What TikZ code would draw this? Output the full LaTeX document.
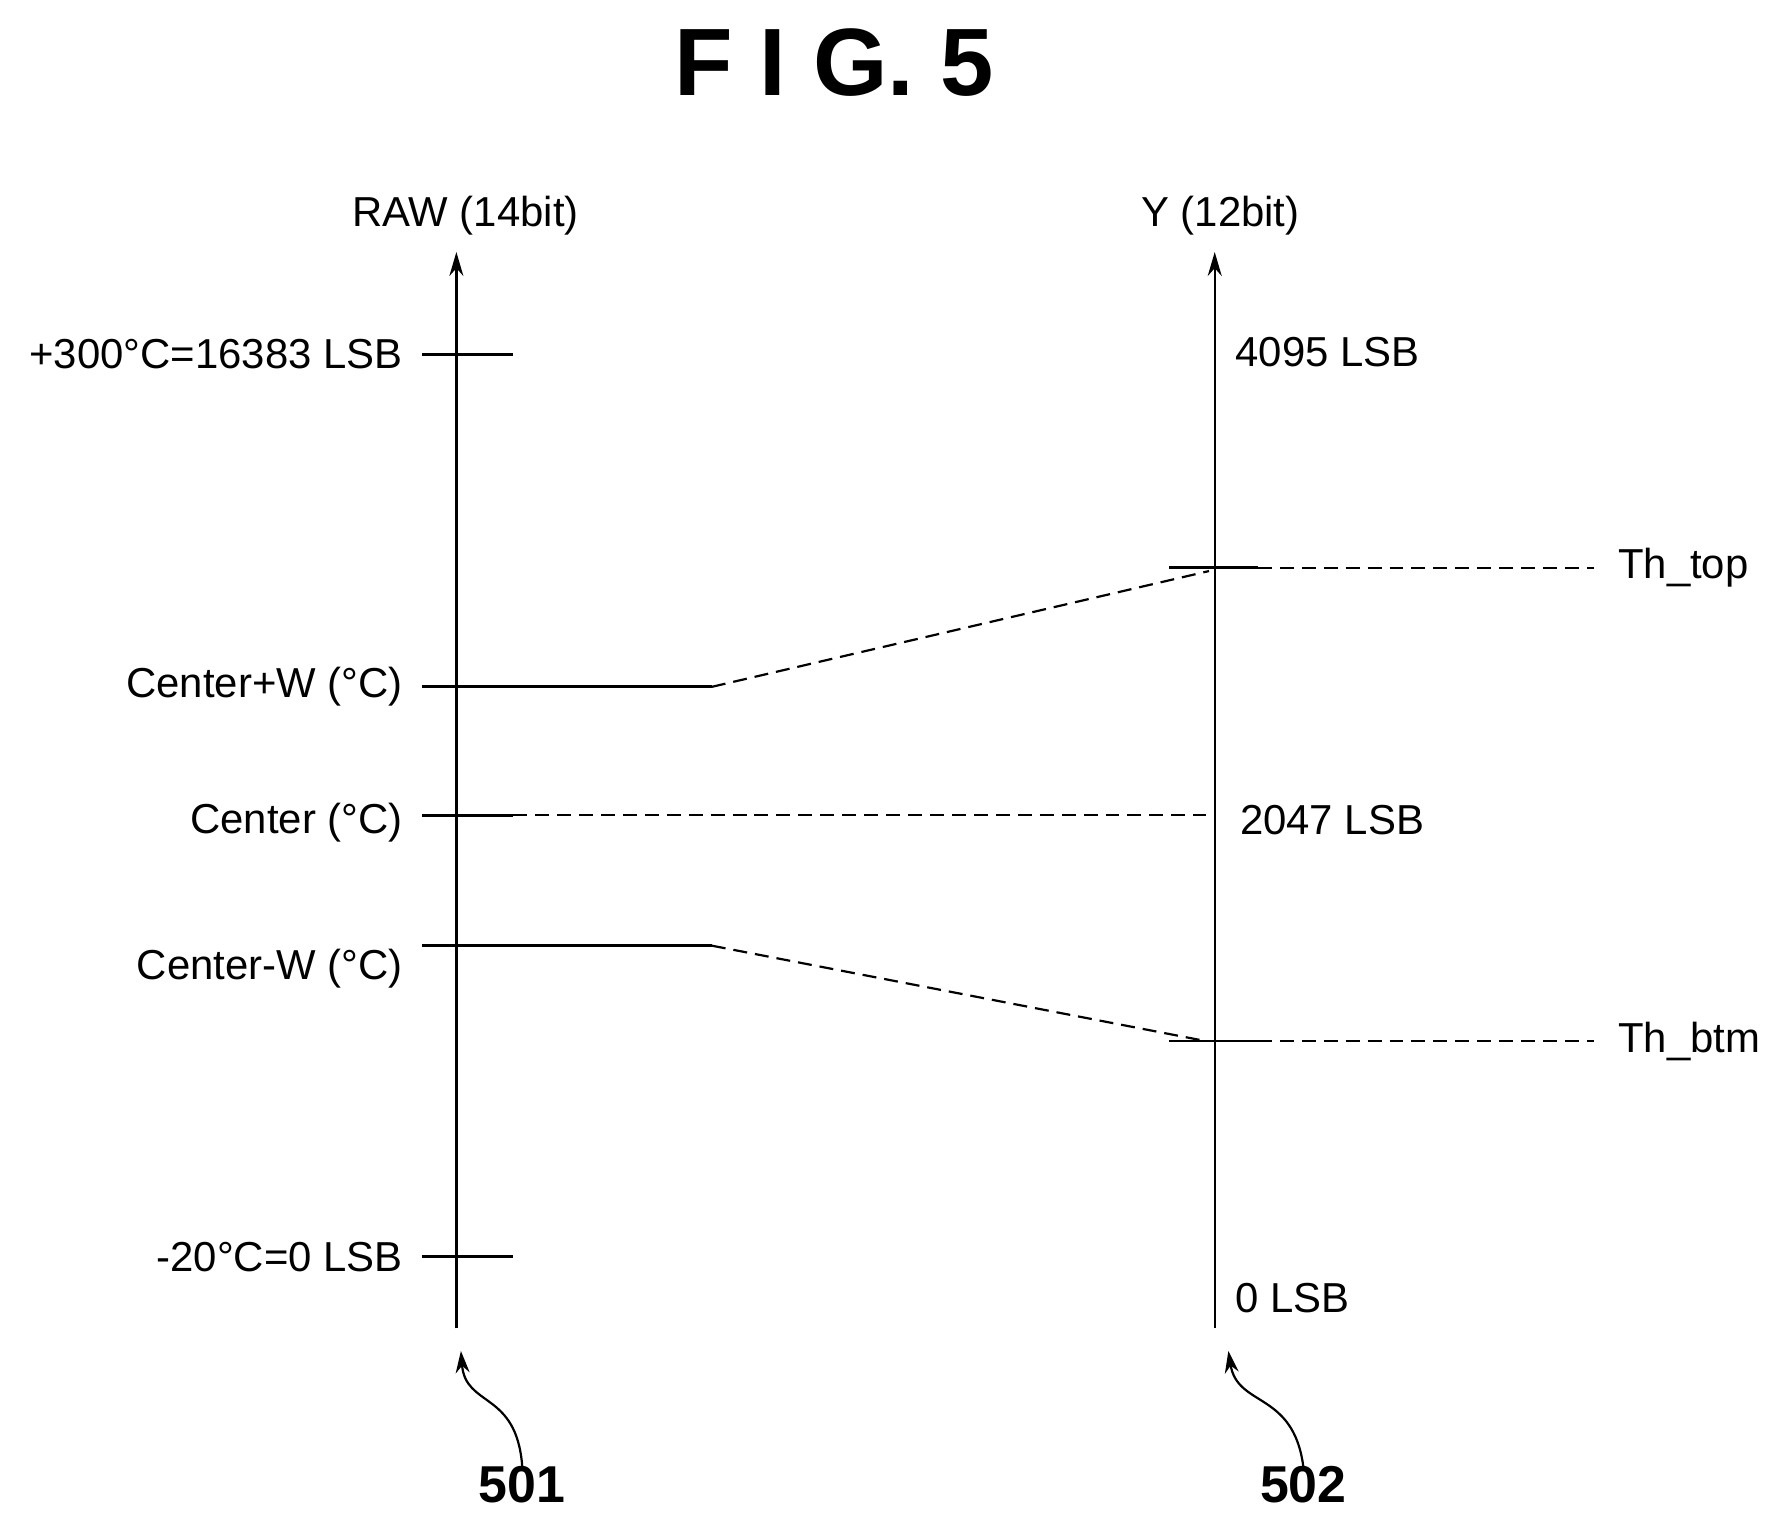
\documentclass[tikz,border=0pt]{standalone}
\usepackage{fontspec}
\setmainfont{Liberation Sans}
\usetikzlibrary{arrows.meta}
\tikzset{
  axis/.style={line width=1.2pt,-{Stealth[length=12pt,width=7pt]}},
  lvl/.style={line width=1.4pt},
  guide/.style={line width=1.1pt,dash pattern=on 7pt off 4pt},
  lbl/.style={font=\fontsize{21}{25}\selectfont,inner sep=0pt},
  refnum/.style={font=\bfseries\fontsize{26}{30}\selectfont,inner sep=0pt},
}
\begin{document}
\begin{tikzpicture}[x=0.02cm,y=-0.02cm]
\useasboundingbox (0,0) rectangle (1560,1339);

\node[font=\bfseries\fontsize{48}{56}\selectfont] (title) at (735,55) {F I G. 5};

% axes
\coordinate (rawbot) at (402,1170);
\coordinate (rawtop) at (402,222);
\coordinate (ybot) at (1070,1170);
\coordinate (ytop) at (1070,222);
\draw[axis] (rawbot) -- (rawtop);
\draw[axis] (ybot) -- (ytop);
\node[lbl] (rawlbl) at (410,190) {RAW (14bit)};
\node[lbl] (ylbl) at (1075,190) {Y (12bit)};

% left side levels
\coordinate (hiL) at (372,312);  \coordinate (hiR) at (452,312);
\coordinate (loL) at (372,1107); \coordinate (loR) at (452,1107);
\coordinate (cwL) at (372,605);  \coordinate (cwR) at (627,605);
\coordinate (cL)  at (372,718);  \coordinate (cR)  at (452,718);
\coordinate (cmL) at (372,833);  \coordinate (cmR) at (627,833);
\draw[lvl] (hiL) -- (hiR);
\draw[lvl] (loL) -- (loR);
\draw[lvl] (cwL) -- (cwR);
\draw[lvl] (cL) -- (cR);
\draw[lvl] (cmL) -- (cmR);

\node[lbl,anchor=east] (hitxt) at (355,312) {+300°C=16383 LSB};
\node[lbl,anchor=east] (cwtxt) at (355,605) {Center+W (°C)};
\node[lbl,anchor=east] (ctxt)  at (355,725) {Center (°C)};
\node[lbl,anchor=east] (cmtxt) at (355,853) {Center-W (°C)};
\node[lbl,anchor=east] (lotxt) at (355,1107) {-20°C=0 LSB};

% right side levels
\coordinate (topL) at (1030,500); \coordinate (topR) at (1108,500);
\coordinate (btmL) at (1030,917); \coordinate (btmR) at (1108,917);
\draw[lvl] (topL) -- (topR);
\draw[lvl] (btmL) -- (btmR);
\node[lbl,anchor=west] (thtop) at (1425,500) {Th\_top};
\node[lbl,anchor=west] (thbtm) at (1425,917) {Th\_btm};
\draw[guide] (topR) -- ([xshift=-12]thtop.west);
\draw[guide] (btmR) -- ([xshift=-12]thbtm.west);

\node[lbl,anchor=west] (ymax) at (1088,310) {4095 LSB};
\node[lbl,anchor=west] (ymid) at (1092,722) {2047 LSB};
\node[lbl,anchor=west] (ymin) at (1088,1143) {0 LSB};

% mapping
\coordinate (ctopY) at (1065,503);
\coordinate (cmidY) at (1062,718);
\coordinate (cbtmY) at (1062,917);
\draw[guide] (cwR) -- (ctopY);
\draw[guide] (cR) -- (cmidY);
\draw[guide] (cmR) -- (cbtmY);

% reference numerals
\node[refnum] (n501) at (460,1308) {501};
\node[refnum] (n502) at (1148,1308) {502};
\draw[line width=1.1pt,-{Stealth[length=11pt,width=7pt]}] (n501.north) .. controls (455,1225) and (410,1240) .. (406,1190);
\draw[line width=1.1pt,-{Stealth[length=11pt,width=7pt]}] (n502.north) .. controls (1139,1225) and (1090,1240) .. (1082,1190);
\end{tikzpicture}
\end{document}
